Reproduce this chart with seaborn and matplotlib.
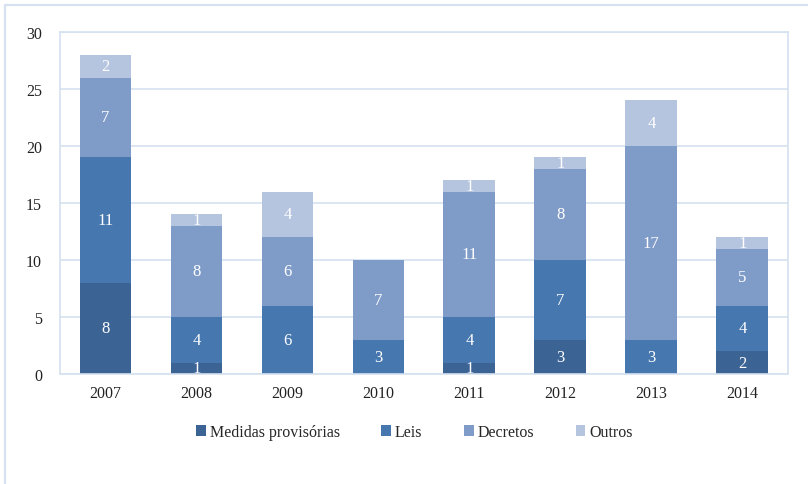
import numpy as np
import pandas as pd
import seaborn as sns
import matplotlib.pyplot as plt
from matplotlib.lines import Line2D
from matplotlib.patches import Patch

# data
anos = ["2007", "2008", "2009", "2010", "2011", "2012", "2013", "2014"]
medidas = [8, 1, 0, 0, 1, 3, 0, 2]
leis = [11, 4, 6, 3, 4, 7, 3, 4]
decretos = [7, 8, 6, 7, 11, 8, 17, 5]
outros = [2, 1, 4, 0, 1, 1, 4, 1]

series = ["Medidas provisórias", "Leis", "Decretos", "Outros"]
cores = ["#3B6495", "#4677AF", "#7F9CC8", "#B5C4DF"]

sns.set_style("white")
plt.rcParams["font.family"] = ["Liberation Serif", "DejaVu Serif"]

df = pd.DataFrame({"ano": anos, series[0]: medidas, series[1]: leis,
                   series[2]: decretos, series[3]: outros})
cum = df[series].cumsum(axis=1)

fig = plt.figure(figsize=(8.08, 4.85), dpi=100)
ax = fig.add_axes([0.0743, 0.2268, 0.9007, 0.7052])

# stacked bars: draw cumulative totals from the top layer down
for s, c in reversed(list(zip(series, cores))):
    sns.barplot(x=df["ano"], y=cum[s], color=c, width=0.57, saturation=1,
                linewidth=0, edgecolor="none", ax=ax, zorder=2)

# segment labels
for i in range(len(anos)):
    base = 0
    for s in series:
        v = df[s][i]
        if v > 0:
            ax.text(i, base + v / 2, str(v), ha="center", va="center",
                    color="white", fontsize=12, zorder=3)
        base += v

grid_c = "#D5E1F0"
ax.set_ylim(0, 30)
ax.set_yticks(range(0, 31, 5))
ax.set_xlim(-0.5, len(anos) - 0.5)
ax.yaxis.grid(True, color=grid_c, linewidth=1.2, zorder=0)
ax.set_axisbelow(True)
for sp in ax.spines.values():
    sp.set_color(grid_c)
    sp.set_linewidth(1.2)
ax.set_xlabel("")
ax.set_ylabel("")
ax.tick_params(axis="both", length=0, labelsize=11.5, colors="#222222")
ax.tick_params(axis="y", pad=13)
ax.tick_params(axis="x", pad=8)

handles = [Patch(facecolor=c, edgecolor="none") for c in cores]
fig.legend(handles, series, loc="center", bbox_to_anchor=(0.513, 0.107),
           ncol=4, frameon=False, fontsize=11.5, handlelength=0.6,
           handleheight=0.6, handletextpad=0.25, columnspacing=2.6)

# outer chart frame (top and left edges visible)
fig.add_artist(Line2D([0.0062, 1.0], [0.9876, 0.9876], color=grid_c, lw=1.5))
fig.add_artist(Line2D([0.0062, 0.0062], [0.0, 0.9876], color=grid_c, lw=1.5))

fig.savefig("out.png", dpi=100)
